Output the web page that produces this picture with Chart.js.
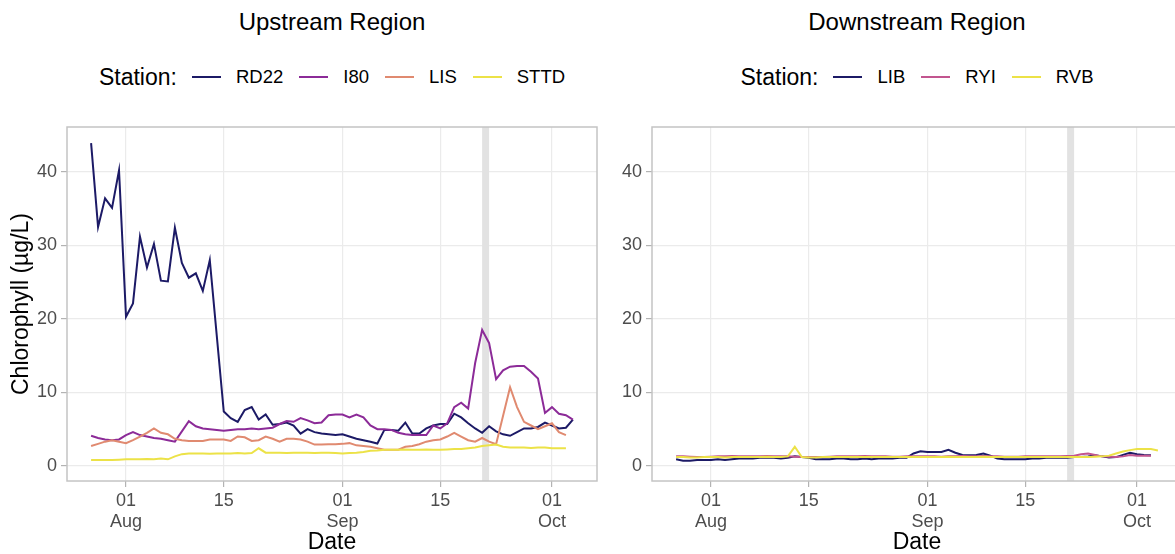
<!DOCTYPE html>
<html><head><meta charset="utf-8">
<script src="https://cdn.jsdelivr.net/npm/chart.js@4.4.1/dist/chart.umd.min.js"></script>
<style>
html,body{margin:0;padding:0;background:#fff;overflow:hidden;width:1175px;height:554px;}
body{position:relative;font-family:"Liberation Sans",Arial,sans-serif;}
canvas{position:absolute;top:0;}
.title{position:absolute;top:9px;width:530px;font-size:24px;line-height:26px;color:#000;text-align:center;white-space:nowrap;}
.legend{position:absolute;top:63px;width:530px;height:28px;display:flex;align-items:center;justify-content:center;white-space:nowrap;color:#000;}
.legend .lt{font-size:23px;margin-right:15px;}
.legend .key{width:29px;height:2px;margin-right:15px;}
.legend .lab{font-size:18.5px;margin-right:16px;}
.legend .lab:last-child{margin-right:0;}
</style></head>
<body>
<div class="title" style="left:67px">Upstream Region</div>
<div class="title" style="left:652px">Downstream Region</div>
<div class="legend" id="legUp" style="left:67px"></div>
<div class="legend" id="legDown" style="left:652px"></div>
<canvas id="up" width="600" height="554" style="left:0;width:600px;height:554px"></canvas>
<canvas id="down" width="582" height="554" style="left:600px;width:582px;height:554px"></canvas>
<script>
// ---------- data ----------
const dates = [
 "2021-07-27","2021-07-28","2021-07-29","2021-07-30","2021-07-31",
 "2021-08-01","2021-08-02","2021-08-03","2021-08-04","2021-08-05","2021-08-06","2021-08-07","2021-08-08","2021-08-09","2021-08-10",
 "2021-08-11","2021-08-12","2021-08-13","2021-08-14","2021-08-15","2021-08-16","2021-08-17","2021-08-18","2021-08-19","2021-08-20",
 "2021-08-21","2021-08-22","2021-08-23","2021-08-24","2021-08-25","2021-08-26","2021-08-27","2021-08-28","2021-08-29","2021-08-30","2021-08-31",
 "2021-09-01","2021-09-02","2021-09-03","2021-09-04","2021-09-05","2021-09-06","2021-09-07","2021-09-08","2021-09-09","2021-09-10",
 "2021-09-11","2021-09-12","2021-09-13","2021-09-14","2021-09-15","2021-09-16","2021-09-17","2021-09-18","2021-09-19","2021-09-20",
 "2021-09-21","2021-09-22","2021-09-23","2021-09-24","2021-09-25","2021-09-26","2021-09-27","2021-09-28","2021-09-29","2021-09-30",
 "2021-10-01","2021-10-02","2021-10-03","2021-10-04"];

const RD22 = [43.9,32.5,36.4,35.1,40.2,
 20.3,22.1,31.2,27.0,30.2,25.2,25.1,32.4,27.6,25.6,
 26.2,23.8,28.0,null,7.4,6.5,6.0,7.6,8.0,6.3,
 7.0,5.6,5.7,5.9,5.5,4.4,5.0,4.6,4.4,4.3,4.2,
 4.3,4.0,3.7,3.5,3.3,3.05,4.9,4.9,4.8,5.9,
 4.4,4.4,5.1,5.5,5.7,5.7,7.1,6.6,5.8,5.1,
 4.5,5.4,4.7,4.3,4.1,4.6,5.1,5.1,5.3,5.9,
 5.5,5.1,5.2,6.3];
const I80 = [4.1,3.8,3.6,3.5,3.6,
 4.2,4.6,4.2,4.0,3.8,3.7,3.5,3.3,null,6.1,
 5.4,5.1,5.0,4.9,4.8,4.9,5.0,5.0,5.1,5.0,
 5.1,5.2,5.7,6.1,6.0,6.5,6.2,5.8,5.9,6.9,7.0,
 7.0,6.6,7.0,6.6,5.5,5.0,5.0,4.9,4.5,4.3,
 4.2,4.2,4.2,5.5,5.1,5.8,8.0,8.6,7.8,14.0,
 18.5,16.7,11.8,13.0,13.5,13.6,13.6,12.8,11.9,7.2,
 8.0,7.1,6.9,6.3];
const LIS = [2.7,3.0,3.3,3.5,3.3,
 3.1,3.5,4.0,4.5,5.1,4.5,4.3,3.7,3.5,3.4,
 3.4,3.4,3.6,3.6,3.6,3.4,4.0,3.9,3.4,3.5,
 4.0,3.7,3.3,3.7,3.7,3.6,3.3,2.9,2.9,2.95,2.95,
 3.0,3.1,2.8,2.7,2.6,2.4,2.2,2.2,2.2,2.6,
 2.7,2.95,3.3,3.5,3.6,4.0,4.5,4.0,3.5,3.3,
 3.8,3.3,2.95,null,10.7,8.0,6.0,5.5,5.0,5.4,
 5.8,4.6,4.2,null];
const STTD = [0.8,0.8,0.8,0.8,0.85,
 0.9,0.9,0.9,0.95,0.9,1.0,0.9,1.3,1.6,1.7,
 1.7,1.7,1.65,1.7,1.7,1.7,1.75,1.7,1.75,2.4,
 1.8,1.8,1.8,1.75,1.8,1.8,1.8,1.75,1.8,1.8,1.75,
 1.7,1.75,1.8,1.9,2.05,2.1,2.2,2.2,2.2,2.25,
 2.2,2.2,2.25,2.2,2.2,2.25,2.3,2.3,2.4,2.5,
 2.7,2.8,2.9,2.6,2.5,2.5,2.5,2.45,2.5,2.5,
 2.4,2.4,2.4,null];

const LIB = [0.9,0.7,0.7,0.8,0.8,
 0.8,0.9,0.8,0.9,1.0,1.0,1.0,1.1,1.1,1.1,
 1.0,1.1,1.3,1.2,1.1,0.9,0.9,0.9,1.0,1.0,
 0.9,0.9,1.0,0.9,1.0,1.0,1.0,1.1,1.1,1.7,2.0,
 1.9,1.9,1.9,2.2,1.8,1.5,1.45,1.5,1.7,1.4,
 1.0,0.9,0.9,0.9,0.9,1.0,1.0,1.1,1.1,1.1,
 1.1,1.2,1.2,1.3,1.45,1.3,1.15,1.2,1.5,1.8,
 1.6,1.5,1.45,null];
const RYI = [1.3,1.3,1.25,1.2,1.2,
 1.25,1.3,1.3,1.35,1.3,1.3,1.3,1.3,1.35,1.3,
 1.3,1.3,1.25,1.2,1.2,1.2,1.2,1.25,1.3,1.3,
 1.3,1.3,1.35,1.3,1.3,1.3,1.25,1.25,1.3,1.3,1.3,
 1.3,1.3,1.25,1.3,1.3,1.35,1.3,1.3,1.35,1.3,
 1.3,1.25,1.25,1.25,1.3,1.3,1.3,1.3,1.3,1.3,
 1.35,1.4,1.6,1.7,1.5,1.3,1.25,1.2,1.3,1.5,
 1.4,1.4,1.4,null];
const RVB = [1.2,1.2,1.15,1.15,1.2,
 1.2,1.2,1.15,1.2,1.2,1.2,1.2,1.2,1.25,1.2,
 1.2,1.3,2.6,1.2,1.15,1.15,1.2,1.2,1.2,1.2,
 1.2,1.2,1.2,1.2,1.2,1.2,1.2,1.2,1.2,1.2,1.2,
 1.2,1.2,1.2,1.25,1.2,1.2,1.2,1.2,1.25,1.2,
 1.2,1.2,1.2,1.2,1.2,1.2,1.2,1.2,1.2,1.2,
 1.2,1.2,1.2,1.2,1.25,1.3,1.4,1.7,1.95,2.15,
 2.3,2.3,2.3,2.1];

const upNames = ["RD22","I80","LIS","STTD"];
const upColors = ["#1c1a66","#8c2b98","#e08a70","#ece247"];
const downNames = ["LIB","RYI","RVB"];
const downColors = ["#1c1a66","#c2558f","#ece247"];

const tickDates = ["2021-08-01","2021-08-15","2021-09-01","2021-09-15","2021-10-01"];
const tickLabels = [["01","Aug"],"15",["01","Sep"],"15",["01","Oct"]];
const yTicks = [0,10,20,30,40];
const bandDates = ["2021-09-21","2021-09-22"];

// ---------- helpers ----------
const ORIGIN = Date.parse("2021-08-01");
const dayNum = s => (Date.parse(s) - ORIGIN) / 864e5;
const xMin = dayNum(dates[0]) - 0.05*(dayNum(dates[dates.length-1]) - dayNum(dates[0]));
const xMax = dayNum(dates[dates.length-1]) + 0.05*(dayNum(dates[dates.length-1]) - dayNum(dates[0]));
const FONT = "'Liberation Sans', Arial, sans-serif";

function mkData(vals){ return dates.map((d,i)=>({x: dayNum(d), y: vals[i]})); }

const panelPlugin = {
  id: 'panel',
  beforeDatasetsDraw(chart){
    const {ctx, chartArea:a, scales:{x}} = chart;
    const x0 = x.getPixelForValue(dayNum(bandDates[0]));
    const x1 = x.getPixelForValue(dayNum(bandDates[1]));
    ctx.save(); ctx.fillStyle = '#e2e2e2';
    ctx.fillRect(x0, a.top, x1-x0, a.bottom-a.top); ctx.restore();
  },
  afterDatasetsDraw(chart){
    const {ctx, chartArea:a} = chart;
    ctx.save(); ctx.strokeStyle = '#c4c4c4'; ctx.lineWidth = 1.5;
    ctx.strokeRect(a.left, a.top, a.right-a.left, a.bottom-a.top); ctx.restore();
  }
};

function makeChart(id, names, colors, series, yWidth, showYTitle, padRight){
  const datasets = names.map((n,i)=>({
    label: n, data: mkData(series[i]), borderColor: colors[i], backgroundColor: colors[i],
    borderWidth: 2, pointRadius: 0, tension: 0, spanGaps: true, order: names.length - i
  }));
  return new Chart(document.getElementById(id), {
    type: 'line',
    data: { datasets },
    plugins: [panelPlugin],
    options: {
      responsive: false, animation: false, events: [], devicePixelRatio: 1,
      layout: { padding: { top: 127, right: padRight, left: 0, bottom: 0 } },
      plugins: { legend: {display:false}, tooltip: {enabled:false}, title: {display:false} },
      scales: {
        x: {
          type: 'linear', min: xMin, max: xMax,
          afterBuildTicks: s => { s.ticks = tickDates.map(d => ({value: dayNum(d)})); },
          afterFit: s => { s.height = 73; },
          border: { display: false },
          grid: { color: '#ebebeb', lineWidth: 1.2, tickLength: 6, tickColor: '#b3b3b3', drawOnChartArea: true },
          ticks: {
            autoSkip: false, maxRotation: 0, padding: 3, color: '#4d4d4d',
            font: { family: FONT, size: 18, lineHeight: 1.2 },
            callback: v => { const k = tickDates.findIndex(d => Math.abs(dayNum(d) - v) < 1e-6); return k >= 0 ? tickLabels[k] : ''; }
          },
          title: { display: true, text: 'Date', color: '#000', font: { family: FONT, size: 23, lineHeight: 1 }, padding: { top: 0, bottom: 0 } }
        },
        y: {
          min: -2.05, max: 46.1,
          afterBuildTicks: s => { s.ticks = yTicks.map(v => ({value: v})); },
          afterFit: s => { s.width = yWidth; },
          border: { display: false },
          grid: { color: '#ebebeb', lineWidth: 1.2, tickLength: 6, tickColor: '#b3b3b3' },
          ticks: { padding: 4, color: '#4d4d4d', font: { family: FONT, size: 18 } },
          title: { display: showYTitle, text: 'Chlorophyll (µg/L)', color: '#000', font: { family: FONT, size: 23, lineHeight: 1 }, padding: { top: 10, bottom: 0 } }
        }
      }
    }
  });
}

function makeLegend(id, names, colors){
  const el = document.getElementById(id);
  let html = '<span class="lt">Station:</span>';
  names.forEach((n,i)=>{ html += `<span class="key" style="background:${colors[i]}"></span><span class="lab">${n}</span>`; });
  el.innerHTML = html;
}

makeLegend('legUp', upNames, upColors);
makeLegend('legDown', downNames, downColors);
makeChart('up', upNames, upColors, [RD22, I80, LIS, STTD], 67, true, 3);
makeChart('down', downNames, downColors, [LIB, RYI, RVB], 52, false, 0);
</script>
</body></html>
